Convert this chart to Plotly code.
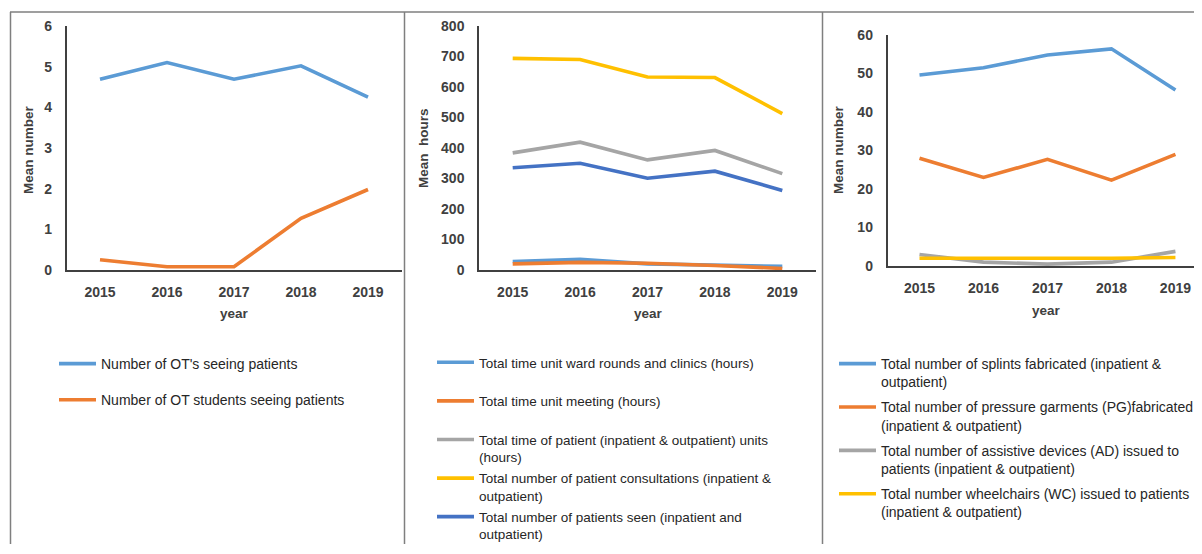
import plotly.graph_objects as go

years = ["2015", "2016", "2017", "2018", "2019"]

# Panel 1
p1_names = ["Number of OT's seeing patients", "Number of OT students seeing patients"]
ot_staff = [4.69, 5.10, 4.69, 5.02, 4.25]
ot_students = [0.25, 0.08, 0.08, 1.27, 1.98]

# Panel 2
p2_names = [
    "Total time unit ward rounds and clinics (hours)<br> ",
    "Total time unit meeting (hours)<br> ",
    "Total time of patient (inpatient & outpatient) units<br>(hours)",
    "Total number of patient consultations (inpatient &<br>outpatient)",
    "Total number of patients seen (inpatient and<br>outpatient)",
]
ward_rounds = [28, 35, 20, 15, 12]
unit_meeting = [20, 25, 22, 15, 5]
patient_units = [384, 419, 361, 392, 316]
consultations = [694, 690, 633, 631, 513]
patients_seen = [335, 350, 301, 324, 261]

# Panel 3
p3_names = [
    "Total number of splints fabricated (inpatient &<br>outpatient)",
    "Total number of pressure garments (PG)fabricated<br>(inpatient & outpatient)",
    "Total number of assistive devices (AD) issued to<br>patients (inpatient & outpatient)",
    "Total number wheelchairs (WC) issued to patients<br>(inpatient & outpatient)",
]
splints = [49.6, 51.5, 54.8, 56.4, 45.7]
garments = [28.0, 23.0, 27.7, 22.3, 29.0]
assistive = [3.0, 1.0, 0.5, 1.0, 3.8]
wheelchairs = [2.0, 2.0, 1.8, 2.0, 2.2]

BLUE, ORANGE, GRAY, YELLOW, DBLUE = "#5B9BD5", "#ED7D31", "#A5A5A5", "#FFC000", "#4472C4"

OFF = 8  # page body margin
W, H = 1202 - 2 * OFF, 554 - 2 * OFF - 2
def px(x):
    return (x - OFF) / W
def py(y):
    return 1 - (y - OFF) / H

fig = go.Figure()

def add(xa, ya, y, name, color, legend, idx):
    fig.add_trace(go.Scatter(
        x=years, y=y, name=name, mode="lines",
        line=dict(color=color, width=3.6),
        xaxis=xa, yaxis=ya, legend=legend, legendgroup=f"{legend}_{idx}",
    ))

add("x", "y", ot_staff, p1_names[0], BLUE, "legend", 0)
add("x", "y", ot_students, p1_names[1], ORANGE, "legend", 1)

p2_series = [ward_rounds, unit_meeting, patient_units, consultations, patients_seen]
p2_colors = [BLUE, ORANGE, GRAY, YELLOW, DBLUE]
for i, (s, n, c) in enumerate(zip(p2_series, p2_names, p2_colors)):
    add("x2", "y2", s, n, c, "legend2", i)

p3_series = [splints, garments, assistive, wheelchairs]
p3_colors = [BLUE, ORANGE, GRAY, YELLOW]
for i, (s, n, c) in enumerate(zip(p3_series, p3_names, p3_colors)):
    add("x3", "y3", s, n, c, "legend3", i)

FONT = "Liberation Sans, Arial, sans-serif"
tickfont = dict(family=FONT, size=14, color="#404040", weight="bold")

def xaxis(d0, d1, anchor, rng):
    return dict(domain=[px(d0), px(d1)], anchor=anchor, type="category",
                range=rng, showgrid=False, zeroline=False, showline=True,
                linecolor="#404040", linewidth=1.5, ticks="", tickfont=tickfont,
                ticklabelstandoff=8, fixedrange=True, automargin=False,
                ticklabeloverflow="allow")

def yaxis(y0, y1, anchor, rng, dtick):
    return dict(domain=[py(y0), py(y1)], anchor=anchor, range=rng, dtick=dtick,
                showgrid=False, zeroline=False, showline=True,
                linecolor="#404040", linewidth=1.5, ticks="", tickfont=tickfont,
                ticklabelstandoff=10, fixedrange=True, automargin=False)

def legend(x, y, gap, size=14):
    return dict(x=px(x), y=py(y), xanchor="left", yanchor="top",
                font=dict(family=FONT, size=size, color="#262626"),
                tracegroupgap=gap, valign="top",
                bgcolor="rgba(0,0,0,0)", itemwidth=37, traceorder="grouped")

fig.update_layout(
    width=W, height=H, margin=dict(l=0, r=0, t=0, b=0, autoexpand=False),
    paper_bgcolor="white", plot_bgcolor="white",
    font=dict(family=FONT),
    xaxis=xaxis(66.5, 401.5, "y", [-0.5, 4.5]),
    yaxis=yaxis(270, 26, "x", [0, 6], 1),
    xaxis2=xaxis(479, 816, "y2", [-0.5, 4.5]),
    yaxis2=yaxis(270, 26, "x2", [0, 800], 100),
    xaxis3=xaxis(887.5, 1194, "y3", [-0.5, 4.29]),
    yaxis3=yaxis(266, 35, "x3", [0, 60], 10),
    showlegend=True,
    legend=legend(54, 348, 15),
    legend2=legend(432, 347, 0.5, 13.5),
    legend3=legend(834, 348, 4),
)

titlefont = dict(family=FONT, size=13.5, color="#404040", weight="bold")
annots = [
    (234, 313, "year", 0), (648, 313, "year", 0), (1046, 310, "year", 0),
    (28, 150, "Mean number", -90), (423, 148, "Mean\u00a0 hours", -90), (838, 150, "Mean number", -90),
]
for x, y, t, ang in annots:
    fig.add_annotation(x=px(x), y=py(y), xref="paper", yref="paper", text=t,
                       showarrow=False, textangle=ang, font=titlefont,
                       xanchor="center", yanchor="middle")

# Panel borders
border = dict(color="#7F7F7F", width=1.5)
fig.add_shape(type="line", xref="paper", yref="paper", x0=px(10), x1=1, y0=py(12), y1=py(12), line=border)
for xv in [10.5, 404.5, 822.5]:
    fig.add_shape(type="line", xref="paper", yref="paper", x0=px(xv), x1=px(xv), y0=py(12), y1=0, line=border)

fig.write_html("out.html")
